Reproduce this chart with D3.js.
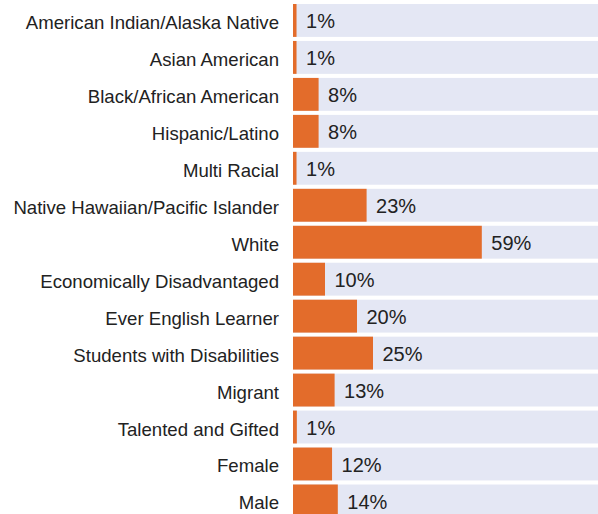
<!DOCTYPE html>
<html>
<head>
<meta charset="utf-8">
<script src="https://cdn.jsdelivr.net/npm/d3@7"></script>
<style>
  body { margin: 0; background: #fff; overflow: hidden; }
  text { font-family: "Liberation Sans", Arial, sans-serif; fill: #222; }
</style>
</head>
<body>
<div id="viz"></div>
<script>
const groups = [
  "American Indian/Alaska Native",
  "Asian American",
  "Black/African American",
  "Hispanic/Latino",
  "Multi Racial",
  "Native Hawaiian/Pacific Islander",
  "White",
  "Economically Disadvantaged",
  "Ever English Learner",
  "Students with Disabilities",
  "Migrant",
  "Talented and Gifted",
  "Female",
  "Male"
];
const percents = [1.1, 1.1, 8, 8, 1.1, 23, 59, 10, 20, 25, 13, 1.2, 12.2, 14];
const valueLabels = ["1%", "1%", "8%", "8%", "1%", "23%", "59%", "10%", "20%", "25%", "13%", "1%", "12%", "14%"];

const data = groups.map((g, i) => ({group: g, value: percents[i], label: valueLabels[i]}));

const W = 598, H = 514;
const left = 293;

const svg = d3.select("#viz").append("svg")
  .attr("width", W)
  .attr("height", H);

const x = d3.scaleLinear()
  .domain([0, 100])
  .range([left, left + 320]);

const y = d3.scaleBand()
  .domain(groups)
  .range([4, 517.4])
  .paddingInner(0.11)
  .paddingOuter(0);

// background track
svg.selectAll("rect.bg")
  .data(data)
  .join("rect")
    .attr("class", "bg")
    .attr("x", x(0))
    .attr("y", d => y(d.group))
    .attr("width", x(100) - x(0))
    .attr("height", y.bandwidth())
    .attr("fill", "#e4e7f4");

svg.selectAll("rect.bar")
  .data(data)
  .join("rect")
    .attr("class", "bar")
    .attr("x", x(0))
    .attr("y", d => y(d.group))
    .attr("width", d => x(d.value) - x(0))
    .attr("height", y.bandwidth())
    .attr("fill", "#e36c2b");

svg.selectAll("text.cat")
  .data(data)
  .join("text")
    .attr("class", "cat")
    .attr("x", left - 14)
    .attr("y", d => y(d.group) + y.bandwidth() / 2 + 8.5)
    .attr("text-anchor", "end")
    .style("font-size", "18.6px")
    .text(d => d.group);

svg.selectAll("text.val")
  .data(data)
  .join("text")
    .attr("class", "val")
    .attr("x", d => x(d.value) + 9.5)
    .attr("y", d => y(d.group) + y.bandwidth() / 2 + 8)
    .style("font-size", "20px")
    .text(d => d.label);
</script>
</body>
</html>
